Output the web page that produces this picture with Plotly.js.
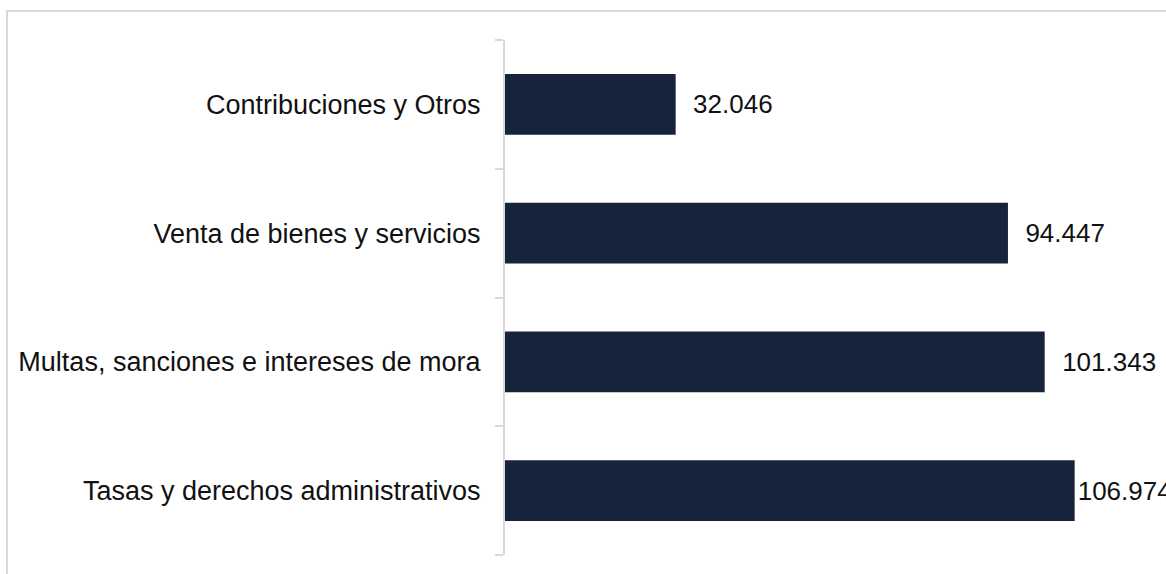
<!DOCTYPE html>
<html>
<head>
<meta charset="utf-8">
<script src="https://cdn.plot.ly/plotly-3.0.1.min.js"></script>
<style>
  html, body { margin: 0; padding: 0; background: #fff; }
  #wrap { position: relative; width: 1166px; height: 574px; overflow: hidden; }
  #frame { position: absolute; left: 6px; top: 10px; width: 1200px; height: 600px;
           border-left: 2px solid #d9d9d9; border-top: 2px solid #d9d9d9; box-sizing: border-box; }
  #chart { position: absolute; left: 0; top: 0; width: 1166px; height: 574px; }
</style>
</head>
<body>
<div id="wrap">
  <div id="frame"></div>
  <div id="chart"></div>
</div>
<script>
// Data (bottom to top as drawn)
const categories = [
  "Tasas y derechos administrativos",
  "Multas, sanciones e intereses de mora",
  "Venta de bienes y servicios",
  "Contribuciones y Otros"
];
const values = [106974, 101343, 94447, 32046];
const labelPrefix = ["", "\u00a0\u00a0", "\u00a0\u00a0", "\u00a0\u00a0"];

const trace = {
  type: "bar",
  orientation: "h",
  y: categories,
  x: values,
  marker: { color: "#16233a", line: { width: 0 } },
  texttemplate: labelPrefix.map(p => p + "%{x:,.0f}"),
  textposition: "outside",
  cliponaxis: false,
  textfont: { family: "Liberation Sans, Arial, sans-serif", size: 26, color: "#111111" },
  hoverinfo: "none"
};

const layout = {
  width: 1166,
  height: 574,
  margin: { l: 505, r: 47, t: 40, b: 19 },
  paper_bgcolor: "rgba(0,0,0,0)",
  plot_bgcolor: "rgba(0,0,0,0)",
  separators: ",.",
  bargap: 0.53,
  showlegend: false,
  font: { family: "Liberation Sans, Arial, sans-serif", size: 27, color: "#111111" },
  xaxis: {
    range: [0, 115300],
    visible: false,
    showgrid: false,
    zeroline: false
  },
  yaxis: {
    type: "category",
    categoryorder: "array",
    categoryarray: categories,
    showline: true,
    linecolor: "#d9d9d9",
    linewidth: 2,
    ticks: "outside",
    tickson: "boundaries",
    ticklen: 8,
    tickwidth: 2,
    tickcolor: "#d9d9d9",
    ticklabelstandoff: 17,
    showgrid: false,
    zeroline: false,
    tickfont: { family: "Liberation Sans, Arial, sans-serif", size: 27, color: "#111111" }
  }
};

Plotly.newPlot("chart", [trace], layout, { displayModeBar: false, staticPlot: true });
</script>
</body>
</html>
